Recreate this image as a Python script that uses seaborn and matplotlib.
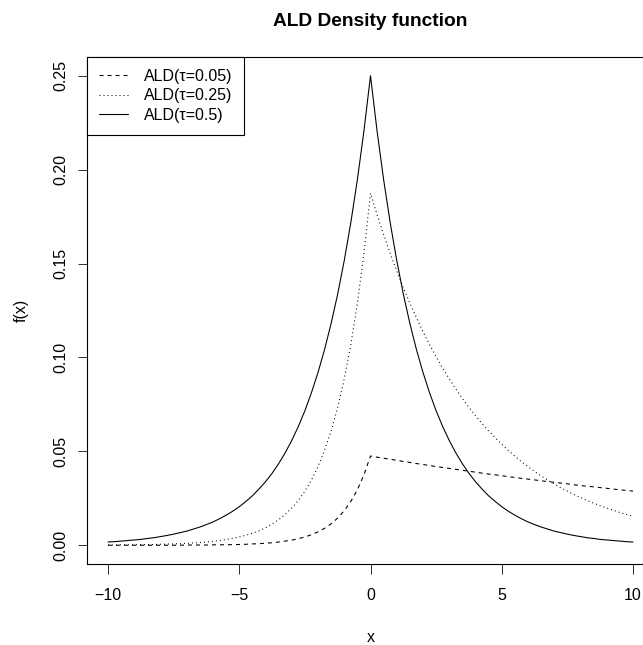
import matplotlib
matplotlib.use("Agg")
import matplotlib.pyplot as plt
import seaborn as sns
import pandas as pd

# Evaluation grid and asymmetric Laplace densities (mu = 0, sigma = 1)
x_values = [
    -10.0, -9.75, -9.5, -9.25, -9.0, -8.75, -8.5, -8.25, -8.0, -7.75,
    -7.5, -7.25, -7.0, -6.75, -6.5, -6.25, -6.0, -5.75, -5.5, -5.25,
    -5.0, -4.75, -4.5, -4.25, -4.0, -3.75, -3.5, -3.25, -3.0, -2.75,
    -2.5, -2.25, -2.0, -1.75, -1.5, -1.25, -1.0, -0.75, -0.5, -0.25,
    0.0,
    0.25, 0.5, 0.75, 1.0, 1.25, 1.5, 1.75, 2.0, 2.25, 2.5,
    2.75, 3.0, 3.25, 3.5, 3.75, 4.0, 4.25, 4.5, 4.75, 5.0,
    5.25, 5.5, 5.75, 6.0, 6.25, 6.5, 6.75, 7.0, 7.25, 7.5,
    7.75, 8.0, 8.25, 8.5, 8.75, 9.0, 9.25, 9.5, 9.75, 10.0,
]

ald_tau_005 = [
    0.0000, 0.0000, 0.0000, 0.0000, 0.0000, 0.0000, 0.0000, 0.0000, 0.0000, 0.0000,
    0.0000, 0.0000, 0.0001, 0.0001, 0.0001, 0.0001, 0.0002, 0.0002, 0.0003, 0.0003,
    0.0004, 0.0005, 0.0007, 0.0008, 0.0011, 0.0013, 0.0017, 0.0022, 0.0027, 0.0035,
    0.0044, 0.0056, 0.0071, 0.0090, 0.0114, 0.0145, 0.0184, 0.0233, 0.0295, 0.0375,
    0.0475,
    0.0469, 0.0463, 0.0458, 0.0452, 0.0446, 0.0441, 0.0435, 0.0430, 0.0424, 0.0419,
    0.0414, 0.0409, 0.0404, 0.0399, 0.0394, 0.0389, 0.0384, 0.0379, 0.0375, 0.0370,
    0.0365, 0.0361, 0.0356, 0.0352, 0.0348, 0.0343, 0.0339, 0.0335, 0.0331, 0.0327,
    0.0322, 0.0318, 0.0314, 0.0311, 0.0307, 0.0303, 0.0299, 0.0295, 0.0292, 0.0288,
]

ald_tau_025 = [
    0.0001, 0.0001, 0.0002, 0.0002, 0.0002, 0.0003, 0.0003, 0.0004, 0.0005, 0.0006,
    0.0007, 0.0008, 0.0010, 0.0012, 0.0014, 0.0017, 0.0021, 0.0025, 0.0030, 0.0037,
    0.0044, 0.0053, 0.0064, 0.0077, 0.0093, 0.0113, 0.0136, 0.0164, 0.0198, 0.0238,
    0.0288, 0.0347, 0.0418, 0.0505, 0.0609, 0.0734, 0.0886, 0.1068, 0.1289, 0.1554,
    0.1875,
    0.1761, 0.1655, 0.1554, 0.1460, 0.1372, 0.1289, 0.1211, 0.1137, 0.1068, 0.1004,
    0.0943, 0.0886, 0.0832, 0.0782, 0.0734, 0.0690, 0.0648, 0.0609, 0.0572, 0.0537,
    0.0505, 0.0474, 0.0445, 0.0418, 0.0393, 0.0369, 0.0347, 0.0326, 0.0306, 0.0288,
    0.0270, 0.0254, 0.0238, 0.0224, 0.0210, 0.0198, 0.0186, 0.0174, 0.0164, 0.0154,
]

ald_tau_050 = [
    0.0017, 0.0019, 0.0022, 0.0025, 0.0028, 0.0031, 0.0036, 0.0040, 0.0046, 0.0052,
    0.0059, 0.0067, 0.0075, 0.0086, 0.0097, 0.0110, 0.0124, 0.0141, 0.0160, 0.0181,
    0.0205, 0.0233, 0.0263, 0.0299, 0.0338, 0.0383, 0.0434, 0.0492, 0.0558, 0.0632,
    0.0716, 0.0812, 0.0920, 0.1042, 0.1181, 0.1338, 0.1516, 0.1718, 0.1947, 0.2206,
    0.2500,
    0.2206, 0.1947, 0.1718, 0.1516, 0.1338, 0.1181, 0.1042, 0.0920, 0.0812, 0.0716,
    0.0632, 0.0558, 0.0492, 0.0434, 0.0383, 0.0338, 0.0299, 0.0263, 0.0233, 0.0205,
    0.0181, 0.0160, 0.0141, 0.0124, 0.0110, 0.0097, 0.0086, 0.0075, 0.0067, 0.0059,
    0.0052, 0.0046, 0.0040, 0.0036, 0.0031, 0.0028, 0.0025, 0.0022, 0.0019, 0.0017,
]

series_labels = ["ALD(τ=0.05)", "ALD(τ=0.25)", "ALD(τ=0.5)"]
x_ticks = [-10, -5, 0, 5, 10]
x_tick_labels = ["\u221210", "\u22125", "0", "5", "10"]
y_ticks = [0.00, 0.05, 0.10, 0.15, 0.20, 0.25]
y_tick_labels = ["0.00", "0.05", "0.10", "0.15", "0.20", "0.25"]

sns.set_style("ticks")
plt.rcParams["font.family"] = ["Liberation Sans", "DejaVu Sans"]
plt.rcParams["lines.scale_dashes"] = False

W, H = 643, 645
PX = 0.72  # one pixel in points at 100 dpi
fig = plt.figure(figsize=(W / 100, H / 100), dpi=100)
fig.patch.set_facecolor("white")
ax = fig.add_axes([87 / W, 1 - 564 / H, (654 - 87) / W, (564 - 57) / H])
ax.set_facecolor("white")

frame = pd.DataFrame({
    "x": x_values,
    "tau_005": ald_tau_005,
    "tau_025": ald_tau_025,
    "tau_050": ald_tau_050,
})

line_styles = [
    (0, (4 * PX, 4 * PX)),   # dashed
    (0, (1 * PX, 3 * PX)),   # dotted
    "-",                     # solid
]
for col, label, ls in zip(["tau_005", "tau_025", "tau_050"], series_labels, line_styles):
    sns.lineplot(data=frame, x="x", y=col, ax=ax, color="black",
                 linewidth=0.78, linestyle=ls, label=label,
                 estimator=None, sort=False)

ax.set_xlim(-10.8, 10.8)
ax.set_ylim(-0.01, 0.26)
ax.set_xticks(x_ticks)
ax.set_xticklabels(x_tick_labels)
ax.set_yticks(y_ticks)
ax.set_yticklabels(y_tick_labels)

FS = 16 * PX  # 16 px text
ax.tick_params(axis="both", direction="out", length=9.5 * PX, width=PX,
               color="#333333", labelsize=FS, labelcolor="black")
ax.tick_params(axis="x", pad=10.5)
ax.tick_params(axis="y", pad=6.5, labelrotation=90)
for lab in ax.get_yticklabels():
    lab.set_verticalalignment("center")
    lab.set_horizontalalignment("right")

for side in ["left", "right", "top", "bottom"]:
    ax.spines[side].set_visible(True)
    ax.spines[side].set_color("black")
    ax.spines[side].set_linewidth(PX * 1.1)

ax.set_xlabel("x", fontsize=FS, color="black")
ax.set_ylabel("f(x)", fontsize=FS, color="black")
ax.xaxis.set_label_coords(0.5, -(638 - 564) / (564 - 57))
ax.xaxis.label.set_verticalalignment("center")
ax.yaxis.set_label_coords(-(87 - 29) / (654 - 87), 0.5)

ax.set_title("ALD Density function", fontsize=19.2 * PX, fontweight="bold",
             pad=31 * PX, color="black")

leg = ax.legend(loc="upper left", bbox_to_anchor=(0, 1), borderaxespad=0,
                frameon=True, fancybox=False, shadow=False, framealpha=1,
                edgecolor="black", facecolor="white", fontsize=FS,
                handlelength=1.8, handletextpad=1.0, borderpad=0.75,
                labelspacing=0.28)
leg.get_frame().set_linewidth(PX * 1.1)
for t in leg.get_texts():
    t.set_color("black")

fig.savefig("out.png", dpi=100, facecolor="white")
